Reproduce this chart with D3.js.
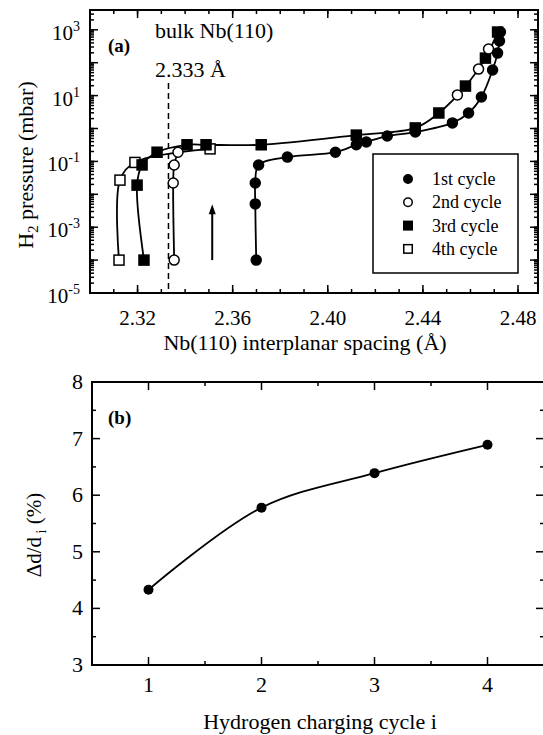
<!DOCTYPE html>
<html>
<head>
<meta charset="utf-8">
<script src="https://cdn.jsdelivr.net/npm/d3@7"></script>
<style>
  body { margin: 0; background: #fff; }
  text { font-family: "Liberation Serif", "DejaVu Serif", serif; fill: #000; }
</style>
</head>
<body>
<div id="chart"></div>
<script>
// ---- panel (a): [interplanar spacing (Å), H2 pressure (mbar)]
const cycle1 = [[2.3699, 1e-4], [2.3695, 0.0051], [2.3695, 0.022], [2.3709, 0.078], [2.383, 0.135],
  [2.4032, 0.19], [2.412, 0.32], [2.4162, 0.39], [2.425, 0.59], [2.4368, 0.78], [2.4524, 1.48],
  [2.4592, 2.96], [2.4646, 9.1], [2.4693, 60], [2.4714, 196], [2.4722, 457], [2.4726, 855]];
const cycle2 = [[2.3354, 1e-4], [2.335, 0.022], [2.3354, 0.078], [2.337, 0.19],
  [2.4545, 10.5], [2.4634, 64], [2.4676, 262]];
const cycle3 = [[2.3227, 1e-4], [2.3198, 0.019], [2.3219, 0.078], [2.3282, 0.19], [2.3408, 0.32],
  [2.3488, 0.32], [2.372, 0.32], [2.412, 0.63], [2.4368, 1.04], [2.4467, 2.96], [2.4579, 19.5],
  [2.4663, 138], [2.4714, 855]];
const cycle4 = [[2.3122, 1e-4], [2.3126, 0.027], [2.3189, 0.093], [2.3505, 0.24]];
const cycleNames = ["1st cycle", "2nd cycle", "3rd cycle", "4th cycle"];
const bulkSpacing = 2.333;
const arrowX = 2.3514, arrowFrom = 1e-4, arrowTo = 5e-3;
const xTicksA = [2.32, 2.36, 2.40, 2.44, 2.48];
const yLabelExpA = [3, 1, -1, -3, -5];

// ---- panel (b): charging cycle vs Δd/di (%)
const cyclesB = [1, 2, 3, 4];
const deltaB = [4.33, 5.78, 6.39, 6.89];
const yTicksB = [3, 4, 5, 6, 7, 8];

const W = 543, H = 735;
const svg = d3.select("#chart").append("svg")
  .attr("width", W).attr("height", H);

const xA = d3.scaleLinear().domain([2.30, 2.4884]).range([90, 538]);
const yA = d3.scaleLog().domain([1e-5, 4e3]).range([293, 10]);

const gA = svg.append("g");

// inward ticks
function ticksX(g, scale, vals, y, len) {
  g.selectAll(null).data(vals).enter().append("line")
    .attr("x1", d => scale(d)).attr("x2", d => scale(d))
    .attr("y1", y).attr("y2", y + len)
    .attr("stroke", "#000").attr("stroke-width", 1.5);
}
function ticksY(g, scale, vals, x, len) {
  g.selectAll(null).data(vals).enter().append("line")
    .attr("y1", d => scale(d)).attr("y2", d => scale(d))
    .attr("x1", x).attr("x2", x + len)
    .attr("stroke", "#000").attr("stroke-width", 1.5);
}

const xMinorA = d3.range(231, 249).map(d => d / 100);
ticksX(gA, xA, xTicksA, 293, -8);
ticksX(gA, xA, xMinorA, 293, -4);
ticksX(gA, xA, xTicksA, 10, 8);
ticksX(gA, xA, xMinorA, 10, 4);

const decades = d3.range(-5, 4).map(e => Math.pow(10, e));
const yMinorA = yA.ticks().filter(v => v > 1e-5 && v < 4e3);
ticksY(gA, yA, decades, 90, 8);
ticksY(gA, yA, yMinorA, 90, 4);
ticksY(gA, yA, decades, 538, -8);
ticksY(gA, yA, yMinorA, 538, -4);

gA.append("rect")
  .attr("x", 90).attr("y", 10).attr("width", 448).attr("height", 283)
  .attr("fill", "none").attr("stroke", "#000").attr("stroke-width", 2);

// tick labels
gA.selectAll(".xl").data(xTicksA).enter().append("text")
  .attr("x", d => xA(d)).attr("y", 325)
  .attr("text-anchor", "middle").style("font-size", "21px")
  .text(d => d.toFixed(2));

const yl = gA.selectAll(".yl").data(yLabelExpA).enter().append("text")
  .attr("x", 80).attr("y", d => yA(Math.pow(10, d)) + 10)
  .attr("text-anchor", "end").style("font-size", "21px");
yl.append("tspan").text("10");
yl.append("tspan").attr("dy", -9).style("font-size", "14px").text(d => d);

// axis titles
gA.append("text")
  .attr("x", 305).attr("y", 350)
  .attr("text-anchor", "middle").style("font-size", "22px")
  .text("Nb(110) interplanar spacing (Å)");

const ytA = gA.append("text")
  .attr("transform", "translate(33,165) rotate(-90)")
  .attr("text-anchor", "middle").style("font-size", "22px");
ytA.append("tspan").text("H");
ytA.append("tspan").attr("dy", 5).style("font-size", "15px").text("2");
ytA.append("tspan").attr("dy", -5).text(" pressure (mbar)");

// bulk reference line
gA.append("line")
  .attr("x1", xA(bulkSpacing)).attr("x2", xA(bulkSpacing))
  .attr("y1", 83).attr("y2", 293)
  .attr("stroke", "#000").attr("stroke-width", 1.5)
  .attr("stroke-dasharray", "6,4");

gA.append("text").attr("x", 155).attr("y", 38).style("font-size", "22px").text("bulk Nb(110)");
gA.append("text").attr("x", 155).attr("y", 77).style("font-size", "22px").text("2.333 Å");
gA.append("text").attr("x", 108).attr("y", 52)
  .style("font-size", "19px").style("font-weight", "bold").text("(a)");

// arrow
gA.append("line")
  .attr("x1", xA(arrowX)).attr("x2", xA(arrowX))
  .attr("y1", yA(arrowFrom)).attr("y2", yA(arrowTo) + 8)
  .attr("stroke", "#000").attr("stroke-width", 2);
gA.append("path")
  .attr("d", `M${xA(arrowX) - 3.5},${yA(arrowTo) + 10} L${xA(arrowX)},${yA(arrowTo)} L${xA(arrowX) + 3.5},${yA(arrowTo) + 10} Z`)
  .attr("fill", "#000");

// curves
const lineA = d3.line()
  .x(d => xA(d[0])).y(d => yA(d[1]))
  .curve(d3.curveCatmullRom.alpha(0.5));

[cycle1, cycle3, cycle4, cycle2.filter(d => d[0] < 2.4)].forEach(pts => {
  gA.append("path").attr("d", lineA(pts))
    .attr("fill", "none").attr("stroke", "#000").attr("stroke-width", 1.8);
});

// markers
function marker(g, kind, cx, cy, s) {
  if (kind < 2) {
    g.append("circle").attr("cx", cx).attr("cy", cy).attr("r", s / 2)
      .attr("fill", kind === 0 ? "#000" : "#fff")
      .attr("stroke", "#000").attr("stroke-width", 1.5);
  } else {
    g.append("rect").attr("x", cx - s / 2).attr("y", cy - s / 2)
      .attr("width", s).attr("height", s)
      .attr("fill", kind === 2 ? "#000" : "#fff")
      .attr("stroke", "#000").attr("stroke-width", 1.5);
  }
}

[cycle4, cycle3, cycle2, cycle1].forEach((pts, j) => {
  const kind = 3 - j;
  pts.forEach(d => marker(gA, kind, xA(d[0]), yA(d[1]), 10));
});

// legend
const leg = gA.append("g");
leg.append("rect")
  .attr("x", 373).attr("y", 154).attr("width", 145).attr("height", 119)
  .attr("fill", "#fff").attr("stroke", "#000").attr("stroke-width", 1.5);
cycleNames.forEach((name, i) => {
  const ly = 179 + i * 23.3;
  marker(leg, i, 408, ly, 8.5);
  leg.append("text").attr("x", 432).attr("y", ly + 6)
    .style("font-size", "18px").text(name);
});

// ---- panel (b)
const xB = d3.scaleLinear().domain([0.5, 4.5]).range([92, 544]);
const yB = d3.scaleLinear().domain([3, 8]).range([665, 382]);
const gB = svg.append("g");

const xMajB = [1, 2, 3, 4], xMinB = [1.5, 2.5, 3.5];
const yMinB = [3.5, 4.5, 5.5, 6.5, 7.5];
ticksX(gB, xB, xMajB, 665, -8);
ticksX(gB, xB, xMinB, 665, -4);
ticksX(gB, xB, xMajB, 382, 8);
ticksX(gB, xB, xMinB, 382, 4);
ticksY(gB, yB, yTicksB, 92, 8);
ticksY(gB, yB, yMinB, 92, 4);
ticksY(gB, yB, yTicksB, 544, -8);
ticksY(gB, yB, yMinB, 544, -4);

gB.append("rect")
  .attr("x", 92).attr("y", 382).attr("width", 452).attr("height", 283)
  .attr("fill", "none").attr("stroke", "#000").attr("stroke-width", 2);

gB.selectAll(".xl").data(xMajB).enter().append("text")
  .attr("x", d => xB(d)).attr("y", 692)
  .attr("text-anchor", "middle").style("font-size", "22px")
  .text(d => d);

gB.selectAll(".yl").data(yTicksB).enter().append("text")
  .attr("x", 83).attr("y", d => yB(d) + 7)
  .attr("text-anchor", "end").style("font-size", "22px")
  .text(d => d);

gB.append("text").attr("x", 320).attr("y", 729)
  .attr("text-anchor", "middle").style("font-size", "22px")
  .text("Hydrogen charging cycle i");

const ytB = gB.append("text")
  .attr("transform", "translate(41,535) rotate(-90)")
  .attr("text-anchor", "middle").style("font-size", "21px");
ytB.append("tspan").text("Δd/d");
ytB.append("tspan").attr("dy", 5).style("font-size", "14px").text(" i");
ytB.append("tspan").attr("dy", -5).text(" (%)");

gB.append("text").attr("x", 108).attr("y", 424)
  .style("font-size", "19px").style("font-weight", "bold").text("(b)");

const ptsB = cyclesB.map((c, i) => [c, deltaB[i]]);
gB.append("path")
  .attr("d", d3.line().x(d => xB(d[0])).y(d => yB(d[1])).curve(d3.curveCatmullRom.alpha(0.5))(ptsB))
  .attr("fill", "none").attr("stroke", "#000").attr("stroke-width", 1.8);
gB.selectAll(".pt").data(ptsB).enter().append("circle")
  .attr("cx", d => xB(d[0])).attr("cy", d => yB(d[1])).attr("r", 5)
  .attr("fill", "#000");
</script>
</body>
</html>
